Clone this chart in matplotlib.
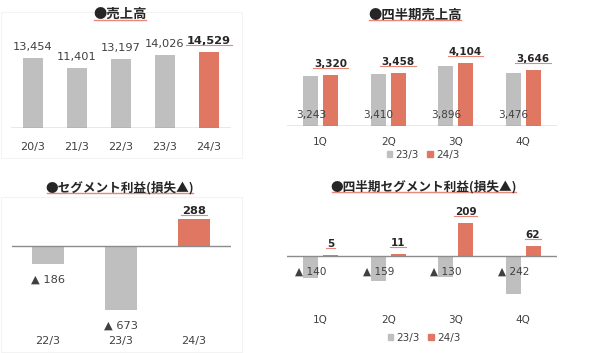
import matplotlib
matplotlib.use("Agg")
import matplotlib.pyplot as plt
from matplotlib.patches import Patch, Rectangle
from matplotlib.lines import Line2D

plt.rcParams['font.family'] = ['DejaVu Sans', 'Noto Sans CJK JP']

# ---------------- data ----------------
annual_years = ['20/3', '21/3', '22/3', '23/3', '24/3']
annual_sales = [13454, 11401, 13197, 14026, 14529]

quarters = ['1Q', '2Q', '3Q', '4Q']
q_sales_prev = [3243, 3410, 3896, 3476]
q_sales_curr = [3320, 3458, 4104, 3646]

seg_years = ['22/3', '23/3', '24/3']
seg_profit = [-186, -673, 288]

q_profit_prev = [-140, -159, -130, -242]
q_profit_curr = [5, 11, 209, 62]

series_names = ['23/3', '24/3']

titles = ['●売上高', '●四半期売上高', '●セグメント利益(損失▲)', '●四半期セグメント利益(損失▲)']

# ---------------- style ----------------
GRAY = '#BFBFBF'
RED = '#DF7763'
LINE = '#8C8C8C'
TXT = '#404040'
BOLD_TXT = '#262626'
ULINE = '#E8877A'

W, H = 600, 353
fig = plt.figure(figsize=(W / 100, H / 100), dpi=100)

def px(v):
    return v * 0.72  # pixels -> points

def ax_px(left, top, right, bottom):
    a = fig.add_axes([left / W, 1 - bottom / H, (right - left) / W, (bottom - top) / H])
    a.set_axis_off()
    return a

def fmt(v):
    return f'▲ {abs(v):,}' if v < 0 else f'{v:,}'

underline_texts = []

def label(ax, x, y, s, dy, bold=False, size=8, color=None, ul=False):
    t = ax.annotate(s, (x, y), xytext=(0, px(dy)), textcoords='offset points',
                    ha='center', va='baseline', fontsize=size,
                    fontweight='bold' if bold else 'normal',
                    color=color or (BOLD_TXT if bold else TXT), zorder=5)
    if ul:
        underline_texts.append((t, None))
    return t

# panel frames (very faint)
for (l, t, r, b) in [(1, 12, 242, 158), (1, 197, 242, 352)]:
    fig.patches.append(Rectangle((l / W, 1 - b / H), (r - l) / W, (b - t) / H,
                                 transform=fig.transFigure, fill=False,
                                 edgecolor='#F3F3F3', lw=0.8))

# titles (x centre, y centre, font size, underline y) in pixels
title_pos = [(120, 13.5, 9.6, 19.5), (415, 14.5, 9.6, 20.2), (120, 187.5, 9.1, 192.6), (424, 187, 9.1, 192)]
for s, (x, y, fs, uy) in zip(titles, title_pos):
    t = fig.text(x / W, 1 - y / H, s, ha='center', va='center', fontsize=fs,
                 fontweight='bold', color=BOLD_TXT,
                 family=['Noto Sans CJK JP', 'DejaVu Sans'])
    underline_texts.append((t, uy))

# ---------------- panel 1: annual sales ----------------
ax1 = ax_px(11, 40, 231, 128)
scale1 = 0.00523
ax1.set_xlim(-0.5, len(annual_years) - 0.5)
ax1.set_ylim(0, 88 / scale1)
x1 = list(range(len(annual_years)))
cols1 = [GRAY] * (len(annual_years) - 1) + [RED]
ax1.bar(x1, annual_sales, width=0.455, color=cols1, zorder=2)
ax1.axhline(0, color=LINE, lw=1.0, zorder=3)
for i, v in enumerate(annual_sales):
    last = i == len(annual_sales) - 1
    label(ax1, i, v, fmt(v), 8, bold=last, size=8.2, ul=last)
    label(ax1, i, 0, annual_years[i], -22, size=8)

# ---------------- panel 2: quarterly sales ----------------
ax2 = ax_px(287, 40, 557, 126)
scale2 = 0.01535
ax2.set_xlim(-0.5, len(quarters) - 0.5)
ax2.set_ylim(0, 86 / scale2)
xq = list(range(len(quarters)))
bw, off = 0.222, 0.145
ax2.bar([x - off for x in xq], q_sales_prev, width=bw, color=GRAY, zorder=2)
ax2.bar([x + off for x in xq], q_sales_curr, width=bw, color=RED, zorder=2)
ax2.axhline(0, color=LINE, lw=1.0, zorder=3)
for i in xq:
    label(ax2, i - off, 0, fmt(q_sales_prev[i]), 7.7, size=7.6)
    label(ax2, i + off, q_sales_curr[i], fmt(q_sales_curr[i]), 8.3, bold=True, size=7.5, ul=True)
    label(ax2, i, 0, quarters[i], -19, size=7.5)
ax2.legend(handles=[Patch(color=GRAY), Patch(color=RED)], labels=series_names,
           loc='center', bbox_to_anchor=(423 / W, 1 - 155 / H), bbox_transform=fig.transFigure,
           ncol=2, frameon=False, fontsize=7.5, handlelength=0.55, handleheight=0.55,
           handletextpad=0.3, columnspacing=0.8, labelcolor=TXT, borderpad=0)

# ---------------- panel 3: segment profit ----------------
ax3 = ax_px(11.5, 200, 230.5, 330)
scale3 = 0.095
ax3.set_xlim(-0.5, len(seg_years) - 0.5)
ax3.set_ylim(-84 / scale3, 46 / scale3)
x3 = list(range(len(seg_years)))
cols3 = [RED if v > 0 else GRAY for v in seg_profit]
ax3.bar(x3, seg_profit, width=0.45, color=cols3, zorder=2)
ax3.axhline(0, color=LINE, lw=1.0, zorder=3)
for i, v in enumerate(seg_profit):
    if v < 0:
        label(ax3, i, v, fmt(v), -19, size=8.2)
    else:
        label(ax3, i, v, fmt(v), 4.5, bold=True, size=8.2, ul=True)
    label(ax3, i, 0, seg_years[i], -97.7, size=8)

# ---------------- panel 4: quarterly segment profit ----------------
ax4 = ax_px(287, 200, 557, 310)
scale4 = 0.158
ax4.set_xlim(-0.5, len(quarters) - 0.5)
ax4.set_ylim(-54 / scale4, 56 / scale4)
ax4.bar([x - off for x in xq], q_profit_prev, width=bw, color=GRAY, zorder=2)
ax4.bar([x + off for x in xq], q_profit_curr, width=bw, color=RED, zorder=2)
ax4.axhline(0, color=LINE, lw=1.0, zorder=3)
for i in xq:
    label(ax4, i - off, 0, fmt(q_profit_prev[i]), -19, size=7.6)
    label(ax4, i + off, q_profit_curr[i], fmt(q_profit_curr[i]), 8.3, bold=True, size=7.5, ul=True)
    label(ax4, i, 0, quarters[i], -66.7, size=7.5)
ax4.legend(handles=[Patch(color=GRAY), Patch(color=RED)], labels=series_names,
           loc='center', bbox_to_anchor=(424 / W, 1 - 338 / H), bbox_transform=fig.transFigure,
           ncol=2, frameon=False, fontsize=7.5, handlelength=0.55, handleheight=0.55,
           handletextpad=0.3, columnspacing=0.8, labelcolor=TXT, borderpad=0)

# ---------------- underlines ----------------
fig.canvas.draw()
r = fig.canvas.get_renderer()
for t, uy in underline_texts:
    bb = t.get_window_extent(renderer=r)
    if uy is not None:
        y = H - uy
        lw = 1.0
        x0, x1 = bb.x0 + 1, bb.x1 - 1
    else:
        y = bb.y0 + 0.7
        lw = 0.8
        x0, x1 = bb.x0 - 1, bb.x1 + 1
    fig.lines.append(Line2D([x0 / W, x1 / W], [y / H, y / H],
                            transform=fig.transFigure, color=ULINE, lw=lw, zorder=1))

fig.savefig('out.png', dpi=100)
